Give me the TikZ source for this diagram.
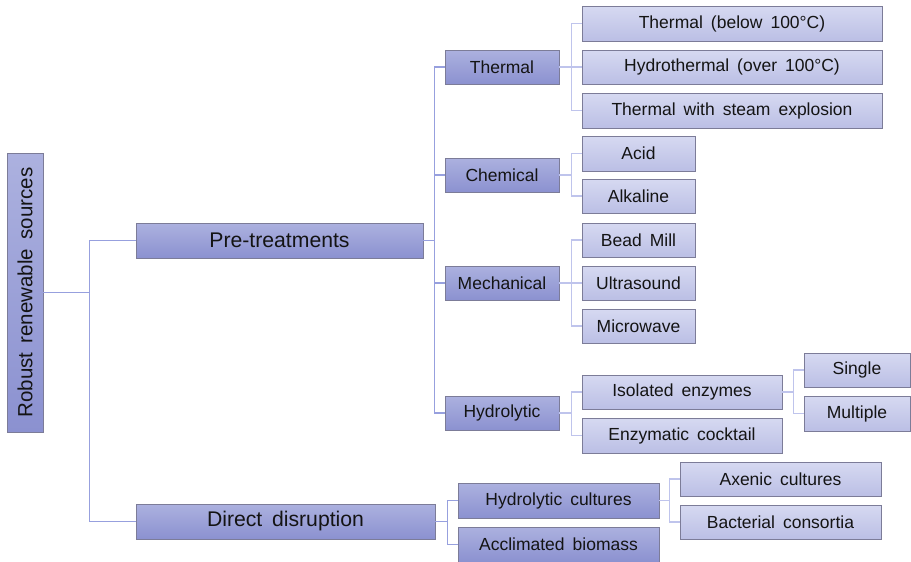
\documentclass[tikz,border=0pt]{standalone}
\usepackage{fontspec}
\setmainfont{Liberation Sans}[WordSpace=1.65]
\usetikzlibrary{shadows}
\definecolor{darktop}{HTML}{ACB1DF}
\definecolor{darkbot}{HTML}{8B91D0}
\definecolor{lighttop}{HTML}{D6D9F1}
\definecolor{lightbot}{HTML}{BBBFE5}
\definecolor{boxline}{HTML}{7C7C98}
\definecolor{mainwire}{HTML}{97A0DE}
\definecolor{subwire}{HTML}{BFC4EC}
\definecolor{ink}{HTML}{141414}
\tikzset{
  basebox/.style={draw=boxline, line width=0.8pt, inner sep=0pt, text=ink,
    drop shadow={shadow xshift=0.8pt, shadow yshift=-0.8pt, opacity=0.25}},
  darkbox/.style={basebox, top color=darktop, bottom color=darkbot},
  lightbox/.style={basebox, top color=lighttop, bottom color=lightbot},
  mainlink/.style={draw=mainwire, line width=1.1pt},
  sublink/.style={draw=subwire, line width=1.1pt},
}
% box from corner (x1,y1) to (x2,y2), in pixel units with y pointing down
\newcommand{\mkbox}[7]{%
  \node[#1, minimum width={(#4-#2)*1pt}, minimum height={(#5-#3)*1pt}]
    (#6) at ({(#2+#4)/2},{(#3+#5)/2}) {#7};}
\begin{document}
\begin{tikzpicture}[x=1pt, y=-1pt]
\useasboundingbox (0,0) rectangle (911,562);

% root
\node[darkbox, minimum width=279pt, minimum height=36pt, rotate=90, font=\fontsize{20.5}{24}\selectfont]
  (root) at (25,292.5) {Robust renewable sources};

% first level
\tikzset{lvone/.style={darkbox, font=\fontsize{21.2}{24}\selectfont}}
\mkbox{lvone}{136}{223}{423}{258}{pre}{Pre-treatments}
\mkbox{lvone}{136}{504}{435}{539}{direct}{Direct disruption}

% second level
\tikzset{lvtwo/.style={darkbox, font=\fontsize{17.5}{21}\selectfont}}
\mkbox{lvtwo}{445}{50}{559}{84}{thermal}{Thermal}
\mkbox{lvtwo}{445}{158}{559}{192}{chem}{Chemical}
\mkbox{lvtwo}{445}{266}{559}{300}{mech}{Mechanical}
\mkbox{lvtwo}{445}{396}{559}{430}{hydro}{Hydrolytic}
\mkbox{lvtwo}{458}{483}{659}{518}{hcult}{Hydrolytic cultures}
\mkbox{lvtwo}{458}{527}{659}{562}{accl}{Acclimated biomass}

% third and fourth level
\tikzset{lvthree/.style={lightbox, font=\fontsize{17.5}{21}\selectfont}}
\mkbox{lvthree}{582}{6}{882}{41}{tbelow}{Thermal (below 100°C)}
\mkbox{lvthree}{582}{50}{882}{84}{thover}{Hydrothermal (over 100°C)}
\mkbox{lvthree}{582}{93}{882}{128}{tsteam}{Thermal with steam explosion}
\mkbox{lvthree}{582}{136}{695}{171}{acid}{Acid}
\mkbox{lvthree}{582}{179}{695}{213}{alk}{Alkaline}
\mkbox{lvthree}{582}{223}{695}{257}{bead}{Bead Mill}
\mkbox{lvthree}{582}{266}{695}{300}{ultra}{Ultrasound}
\mkbox{lvthree}{582}{309}{695}{343}{micro}{Microwave}
\mkbox{lvthree}{582}{375}{782}{409}{isol}{Isolated enzymes}
\mkbox{lvthree}{582}{418}{782}{453}{cock}{Enzymatic cocktail}
\mkbox{lvthree}{804}{353}{910}{387}{single}{Single}
\mkbox{lvthree}{804}{396}{910}{431}{multi}{Multiple}
\mkbox{lvthree}{680}{462}{881}{496}{axen}{Axenic cultures}
\mkbox{lvthree}{680}{505}{881}{539}{bact}{Bacterial consortia}

% connectors
\foreach \c in {pre,direct}
  \draw[mainlink] (root.south) -- ++(46,0) |- (\c.west);
\foreach \c in {thermal,chem,mech,hydro}
  \draw[mainlink] (pre.east) -- ++(11,0) |- (\c.west);
\foreach \c in {hcult,accl}
  \draw[mainlink] (direct.east) -- ++(12,0) |- (\c.west);
\foreach \c in {tbelow,thover,tsteam}
  \draw[sublink] (thermal.east) -- ++(12,0) |- (\c.west);
\foreach \c in {acid,alk}
  \draw[sublink] (chem.east) -- ++(12,0) |- (\c.west);
\foreach \c in {bead,ultra,micro}
  \draw[sublink] (mech.east) -- ++(12,0) |- (\c.west);
\foreach \c in {isol,cock}
  \draw[sublink] (hydro.east) -- ++(12,0) |- (\c.west);
\foreach \c in {single,multi}
  \draw[sublink] (isol.east) -- ++(11,0) |- (\c.west);
\foreach \c in {axen,bact}
  \draw[sublink] (hcult.east) -- ++(10,0) |- (\c.west);
\end{tikzpicture}
\end{document}
